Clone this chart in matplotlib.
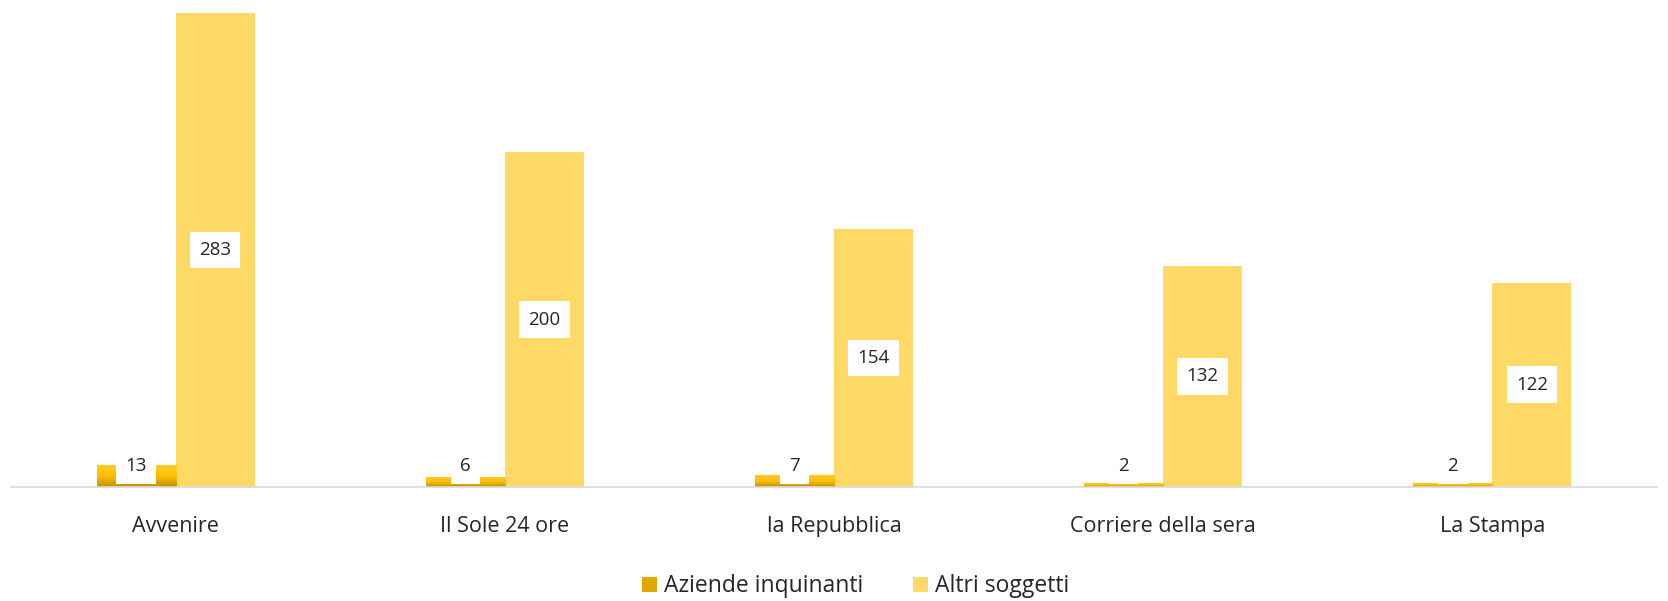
import numpy as np
import matplotlib
matplotlib.use('Agg')
import matplotlib.pyplot as plt
from matplotlib.patches import Patch
from matplotlib.colors import LinearSegmentedColormap

plt.rcParams['font.family'] = ['Open Sans', 'DejaVu Sans']

categories = ['Avvenire', 'Il Sole 24 ore', 'la Repubblica', 'Corriere della sera', 'La Stampa']
aziende = [13, 6, 7, 2, 2]
altri = [283, 200, 154, 132, 122]

txt_col = '#262626'
altri_col = '#FFD966'
grad = LinearSegmentedColormap.from_list('gold', ['#BF9000', '#FFC000', '#FFCA28'])

fig = plt.figure(figsize=(16.68, 6.01), dpi=100)
ax = fig.add_axes([0.0066, 0.19, 0.9868, 0.81])

x = np.arange(len(categories))
w = 0.24

bars1 = ax.bar(x - w / 2, aziende, w, color='#FFC000', label='Aziende inquinanti')
bars2 = ax.bar(x + w / 2, altri, w, color=altri_col, label='Altri soggetti')

# gradient fill for the first series
g = np.linspace(0, 1, 256).reshape(-1, 1)
for b in bars1:
    bx, by = b.get_x(), b.get_y()
    bw, bh = b.get_width(), b.get_height()
    im = ax.imshow(g, cmap=grad, origin='lower', aspect='auto',
                   extent=[bx, bx + bw, by, by + bh], zorder=2)
    im.set_clip_path(b)
    b.set_alpha(0)
ax.set_xlim(-0.5, len(categories) - 0.5)
ax.set_ylim(0, 291)

box = dict(boxstyle='square,pad=0.5', fc='white', ec='none')
for b, v in zip(bars1, aziende):
    ax.annotate(str(v), (b.get_x() + b.get_width() / 2, 0), xytext=(0, 15),
                textcoords='offset points', ha='center', va='center',
                fontsize=13.5, color=txt_col, bbox=box, zorder=5)
for b, v in zip(bars2, altri):
    ax.text(b.get_x() + b.get_width() / 2, v / 2, str(v), ha='center', va='center',
            fontsize=13.5, color=txt_col, bbox=box, zorder=5)

for s in ['top', 'right', 'left']:
    ax.spines[s].set_visible(False)
ax.spines['bottom'].set_color('#D9D9D9')
ax.spines['bottom'].set_linewidth(1.2)
ax.set_yticks([])
ax.set_xticks(x)
ax.set_xticklabels(categories, fontsize=15.5, color=txt_col)
ax.tick_params(axis='x', length=0, pad=21)

handles = [Patch(facecolor='#E0A800', label='Aziende inquinanti'),
           Patch(facecolor=altri_col, label='Altri soggetti')]
fig.legend(handles=handles, loc='lower center', bbox_to_anchor=(0.513, -0.03), ncol=2,
           frameon=False, fontsize=16.5, labelcolor=txt_col, handlelength=0.65,
           handleheight=0.65, handletextpad=0.3, columnspacing=2.2)

plt.savefig('out.png', dpi=100)
